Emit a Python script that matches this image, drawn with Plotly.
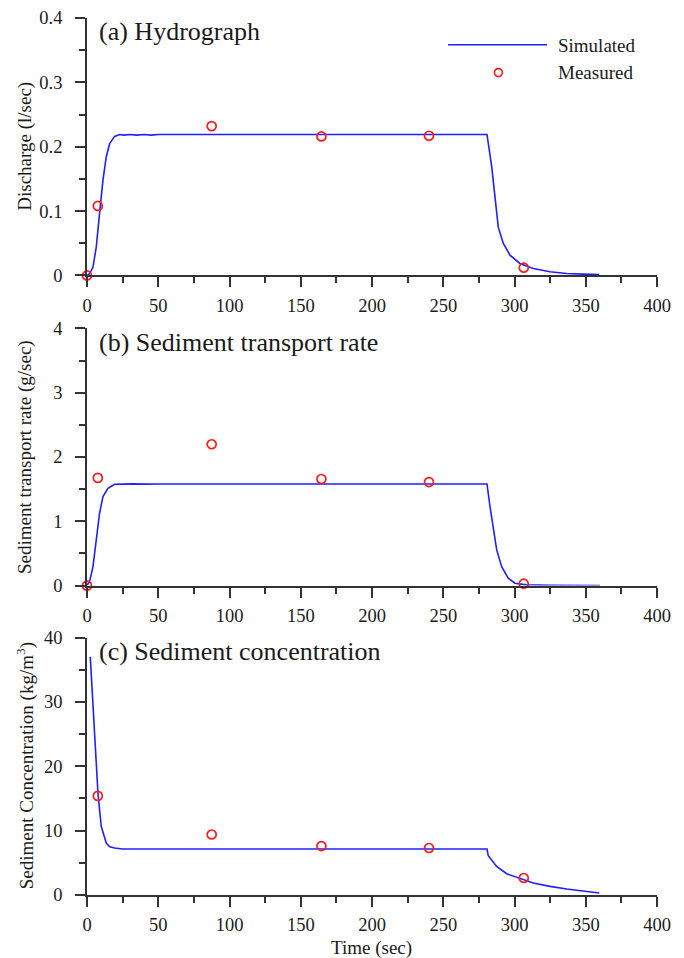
import plotly.graph_objects as go

# target window size and page offset (the browser body margin)
W, H = 684, 958
OFF = 8

# ---------------- data ----------------
# (a) Hydrograph, simulated
sim_t_a = [0, 2, 4.2, 6.5, 8.8, 11.2, 13.5, 15.9, 19.4, 22.9, 26, 30, 35, 40, 45, 50,
           100, 150, 200, 250, 280.7, 284.0, 286.3, 288.6, 292.1, 296.8, 303.8, 313.2,
           324.9, 336.6, 348, 359.5]
sim_q_a = [0, 0.003, 0.013, 0.044, 0.096, 0.148, 0.184, 0.205, 0.216, 0.219, 0.218, 0.219,
           0.218, 0.219, 0.218, 0.219, 0.219, 0.219, 0.219, 0.219, 0.219, 0.169, 0.117,
           0.075, 0.050, 0.0315, 0.0186, 0.0109, 0.0056, 0.003, 0.002, 0.0015]

# (b) Sediment transport rate, simulated
sim_t_b = [0, 2, 4.2, 6.5, 8.8, 11.2, 14.7, 19.4, 23, 27, 32, 40, 50, 100, 150, 200, 250,
           280.7, 282.8, 285.1, 287.5, 291.0, 295.6, 300.3, 308.5, 325, 360]
sim_s_b = [0, 0.08, 0.296, 0.71, 1.125, 1.384, 1.514, 1.576, 1.581, 1.575, 1.582, 1.578,
           1.581, 1.581, 1.581, 1.581, 1.581, 1.581, 1.23, 0.866, 0.555, 0.295, 0.115,
           0.037, 0.011, 0.003, 0.001]

# (c) Sediment concentration, simulated
sim_t_c = [2.3, 5.3, 7.7, 10.0, 13.5, 16.0, 19.4, 25, 50, 100, 150, 200, 250, 280.7,
           281.6, 287.5, 294.5, 300, 313.2, 324.9, 336.6, 359.5]
sim_c_c = [37.0, 25.7, 15.8, 10.65, 8.07, 7.5, 7.3, 7.15, 7.14, 7.14, 7.14, 7.14, 7.14,
           7.14, 6.1, 4.44, 3.3, 2.89, 1.86, 1.34, 0.93, 0.31]

# Measured
meas_t = [0, 7.6, 87.5, 164.5, 240, 306.5]
meas_q = [0, 0.108, 0.232, 0.216, 0.217, 0.012]
meas_s = [0, 1.675, 2.198, 1.658, 1.61, 0.03]
meas_t_c = [7.6, 87.5, 164.5, 240, 306.5]
meas_c = [15.4, 9.4, 7.6, 7.3, 2.64]

x_ticks = [0, 50, 100, 150, 200, 250, 300, 350, 400]

panel_titles = ["(a) Hydrograph", "(b) Sediment transport rate", "(c) Sediment concentration"]
y_titles = ["Discharge (l/sec)", "Sediment transport rate (g/sec)",
            "Sediment Concentration (kg/m<sup>3</sup>)"]
y_ranges = [[0, 0.4], [0, 4], [0, 40]]
y_dticks = [0.1, 1, 10]

# ---------------- style ----------------
FONT = "Liberation Serif, Times New Roman, serif"
BLUE = "#2020ff"
RED = "#ff1a1a"
AX = "#333333"
TXT = "#1a1a1a"
TICK_FS = 18.5
LAB_FS = 19
TITLE_FS = 26

# plot area in window pixels
X_LEFT, X_RIGHT, Y_TOP, Y_BOT = 87.4, 656.7, 17.7, 895.3
PW, PH = X_RIGHT - X_LEFT, Y_BOT - Y_TOP
FW, FH = W - OFF, H - OFF
panels_px = [(17.7, 275.3), (328.3, 585.7), (637.7, 895.3)]


def fx(px):
    return (px - X_LEFT) / PW


def fy(py):
    return (Y_BOT - py) / PH


fig = go.Figure()

sims = [(sim_t_a, sim_q_a), (sim_t_b, sim_s_b), (sim_t_c, sim_c_c)]
meas = [(meas_t, meas_q), (meas_t, meas_s), (meas_t_c, meas_c)]

for i in range(3):
    sfx = "" if i == 0 else str(i + 1)
    fig.add_trace(go.Scatter(x=sims[i][0], y=sims[i][1], mode="lines",
                             line=dict(color=BLUE, width=1.6),
                             xaxis="x" + sfx, yaxis="y" + sfx, showlegend=False,
                             cliponaxis=False))
    fig.add_trace(go.Scatter(x=meas[i][0], y=meas[i][1], mode="markers",
                             marker=dict(symbol="circle-open", size=9, color=RED,
                                         line=dict(width=1.7, color=RED)),
                             xaxis="x" + sfx, yaxis="y" + sfx, showlegend=False,
                             cliponaxis=False))

layout = dict(
    width=FW, height=FH, autosize=False,
    margin=dict(l=X_LEFT - OFF, r=FW - (X_RIGHT - OFF), t=Y_TOP - OFF,
                b=FH - (Y_BOT - OFF), pad=0, autoexpand=False),
    paper_bgcolor="white", plot_bgcolor="white",
    font=dict(family=FONT, color=TXT, size=LAB_FS),
    showlegend=False,
)

annotations = []
shapes = []
for i in range(3):
    sfx = "" if i == 0 else str(i + 1)
    top, bot = panels_px[i]
    layout["xaxis" + sfx] = dict(
        domain=[0, 1], range=[0, 400], anchor="y" + sfx, automargin=False,
        tickvals=x_ticks, ticks="outside", ticklen=10, tickwidth=1.5, tickcolor=AX,
        showline=True, linecolor=AX, linewidth=1.8, showgrid=False, zeroline=False,
        tickfont=dict(family=FONT, size=TICK_FS, color=TXT), ticklabelstandoff=2,
        minor=dict(dtick=25, tick0=0, ticks="outside", ticklen=6, tickwidth=1.5,
                   tickcolor=AX, showgrid=False),
        fixedrange=True,
    )
    layout["yaxis" + sfx] = dict(
        domain=[fy(bot), fy(top)], range=y_ranges[i], anchor="x" + sfx, automargin=False,
        dtick=y_dticks[i], tick0=0, ticks="outside", ticklen=10, tickwidth=1.5,
        tickcolor=AX, showline=True, linecolor=AX, linewidth=1.8, showgrid=False,
        zeroline=False, tickfont=dict(family=FONT, size=TICK_FS, color=TXT),
        ticklabelstandoff=9,
        minor=dict(dtick=y_dticks[i] / 2, tick0=0, ticks="outside", ticklen=6,
                   tickwidth=1.5, tickcolor=AX, showgrid=False),
        fixedrange=True,
    )
    # panel title
    annotations.append(dict(text=panel_titles[i], xref="paper", yref="paper",
                            x=fx(97), y=fy(top + 14), xanchor="left", yanchor="middle",
                            showarrow=False,
                            font=dict(family=FONT, size=TITLE_FS, color=TXT)))
    # y title
    annotations.append(dict(text=y_titles[i], xref="paper", yref="paper",
                            x=fx(25.5), y=fy((top + bot) / 2), xanchor="center",
                            yanchor="middle", textangle=-90, showarrow=False,
                            font=dict(family=FONT, size=LAB_FS, color=TXT)))

annotations.append(dict(text="Time (sec)", xref="paper", yref="paper",
                        x=fx((X_LEFT + X_RIGHT) / 2), y=fy(948), xanchor="center",
                        yanchor="middle", showarrow=False,
                        font=dict(family=FONT, size=LAB_FS, color=TXT)))

# manual legend
shapes.append(dict(type="line", xref="paper", yref="paper",
                   x0=fx(448), x1=fx(547), y0=fy(44.5), y1=fy(44.5),
                   line=dict(color=BLUE, width=1.6)))
shapes.append(dict(type="circle", xref="paper", yref="paper",
                   xsizemode="pixel", ysizemode="pixel",
                   xanchor=fx(498.3), yanchor=fy(72.3),
                   x0=-4, x1=4, y0=-4, y1=4,
                   line=dict(color=RED, width=1.7)))
annotations.append(dict(text="Simulated", xref="paper", yref="paper",
                        x=fx(556), y=fy(45), xanchor="left", yanchor="middle",
                        showarrow=False, font=dict(family=FONT, size=LAB_FS, color=TXT)))
annotations.append(dict(text="Measured", xref="paper", yref="paper",
                        x=fx(556), y=fy(72.5), xanchor="left", yanchor="middle",
                        showarrow=False, font=dict(family=FONT, size=LAB_FS, color=TXT)))

layout["annotations"] = annotations
layout["shapes"] = shapes
fig.update_layout(**layout)

fig.write_html("out.html")
